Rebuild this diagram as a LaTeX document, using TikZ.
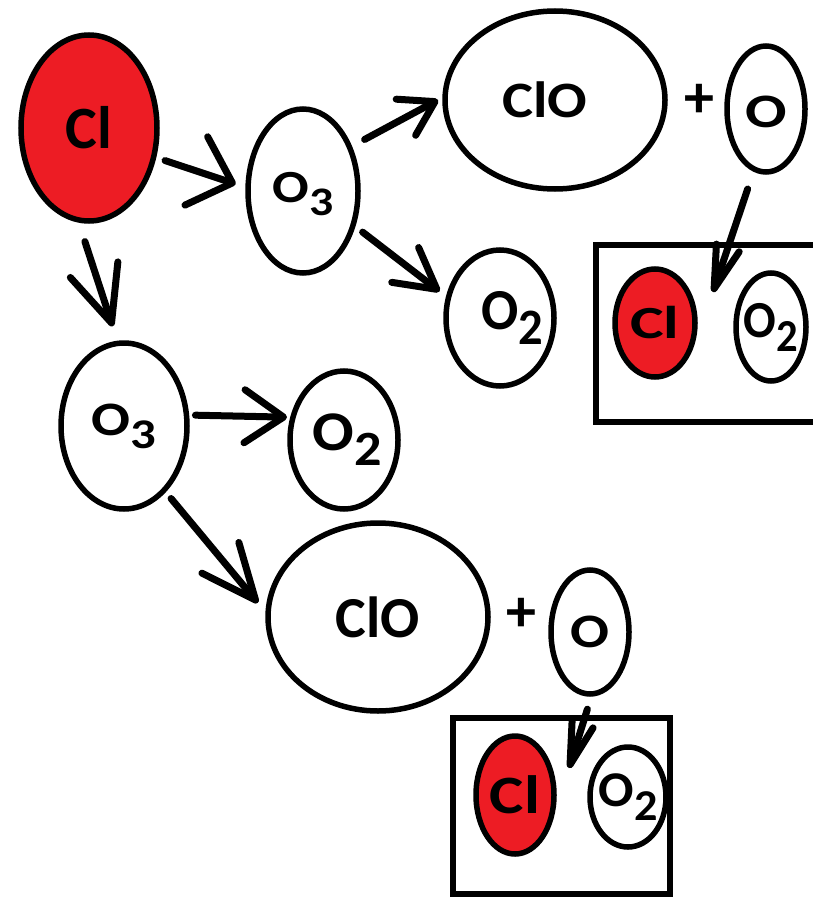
\documentclass[tikz,border=0pt]{standalone}
\usepackage{fontspec}
\setmainfont{Carlito}
\usepackage{graphicx}
\usetikzlibrary{shapes.geometric,arrows.meta}
\definecolor{clred}{RGB}{237,28,36}
% lowered, slightly smaller digit for the molecule formulas
\newcommand\lowsub[1]{\raisebox{-0.27em}{\scalebox{0.88}{#1}}}
% label text: size in pt, horizontal stretch, text
\newcommand\lab[3]{\bfseries\fontsize{#1}{#1}\selectfont\scalebox{#2}[1]{#3}}
\begin{document}
\begin{tikzpicture}[x=1pt,y=-1pt,
  mol/.style={ellipse,draw,line width=5.5pt,inner sep=0pt,outer sep=0pt,fill=white},
  atom/.style={mol,fill=clred},
  frame/.style={rectangle,draw,line width=6.5pt,inner sep=0pt,outer sep=0pt,anchor=north west},
  link/.style={line width=7pt,line cap=round},
  plus/.style={font=\bfseries\fontsize{60}{60}\selectfont,inner sep=0pt},
  ]
\useasboundingbox (0,0) rectangle (813,899);
\clip (0,0) rectangle (813,899);

% product frames
\node[frame,minimum width=240pt,minimum height=177pt] (boxA) at (596,245) {};
\node[frame,minimum width=217pt,minimum height=176pt] (boxB) at (453,718) {};

% upper chain
\node[atom,minimum width=136pt,minimum height=186pt,label={center:\lab{60}{1.0}{Cl}}] (clbig) at (89,128) {};
\node[mol,minimum width=110pt,minimum height=164pt,label={[yshift=-3pt]center:\lab{46}{1.18}{O\lowsub{3}}}] (o3a) at (303,191) {};
\node[mol,minimum width=220pt,minimum height=178pt,label={[xshift=-10pt]center:\lab{51}{1.15}{ClO}}] (cloa) at (555,100) {};
\node[plus] (plusA) at (699,101) {+};
\node[mol,minimum width=78pt,minimum height=126pt,label={[yshift=-3pt]center:\lab{48}{1.28}{O}}] (oa) at (766,109) {};
\node[mol,minimum width=108pt,minimum height=136pt,label={[xshift=12pt]center:\lab{58}{0.95}{O\lowsub{2}}}] (o2a) at (500,318) {};
\node[atom,minimum width=80pt,minimum height=108pt,label={center:\lab{46}{1.38}{Cl}}] (clA) at (655,323) {};
\node[mol,minimum width=70pt,minimum height=108pt,label={center:\lab{52}{0.93}{O\lowsub{2}}}] (o2A) at (771,327) {};

% lower chain
\node[mol,minimum width=126pt,minimum height=166pt,label={center:\lab{48}{1.2}{O\lowsub{3}}}] (o3b) at (124,426) {};
\node[mol,minimum width=108pt,minimum height=138pt,label={[xshift=3pt]center:\lab{56}{1.1}{O\lowsub{2}}}] (o2b) at (344,440) {};
\node[mol,minimum width=220pt,minimum height=188pt,label={center:\lab{58}{1.0}{ClO}}] (clob) at (378,617) {};
\node[plus] (plusB) at (521,615) {+};
\node[mol,minimum width=78pt,minimum height=124pt,label={center:\lab{48}{1.2}{O}}] (ob) at (590,632) {};
\node[atom,minimum width=78pt,minimum height=118pt,label={center:\lab{54}{1.2}{Cl}}] (clB) at (515,795) {};
\node[mol,minimum width=76pt,minimum height=100pt,label={center:\lab{50}{1.05}{O\lowsub{2}}}] (o2B) at (628,797) {};

% free ends of the arrows that point into the frames
\coordinate (tipA) at (713,292);
\coordinate (tipB) at (569,768);

% reaction arrows
\draw[link,-{Straight Barb[length=38pt,width=72pt,round]},shorten <=12pt,shorten >=13pt] (clbig.-24) -- (o3a.177);
\draw[link,-{Straight Barb[length=56pt,width=50pt,round]},shorten <=23pt,shorten >=18pt] (clbig.-97) -- (o3b.94);
\draw[link,-{Straight Barb[length=33pt,width=41pt,round]},shorten <=17pt,shorten >=8pt] (o3a.43) -- (cloa.178);
\draw[link,-{Straight Barb[length=40pt,width=44pt,round]},shorten <=12pt,shorten >=11pt] (o3a.-34) -- (o2a.159);
\draw[link,-{Straight Barb[length=43pt,width=24pt,round]},shorten <=21pt] (oa.-101) -- (tipA);
\draw[link,-{Straight Barb[length=39pt,width=53pt,round]},shorten <=9pt,shorten >=6pt] (o3b.10) -- (o2b.156);
\draw[link,-{Straight Barb[length=55pt,width=48pt,round]},shorten <=11pt,shorten >=16pt] (o3b.-58) -- (clob.179);
\draw[link,-{Straight Barb[length=42pt,width=22pt,round]},shorten <=16pt] (ob.-88) -- (tipB);
\end{tikzpicture}
\end{document}
